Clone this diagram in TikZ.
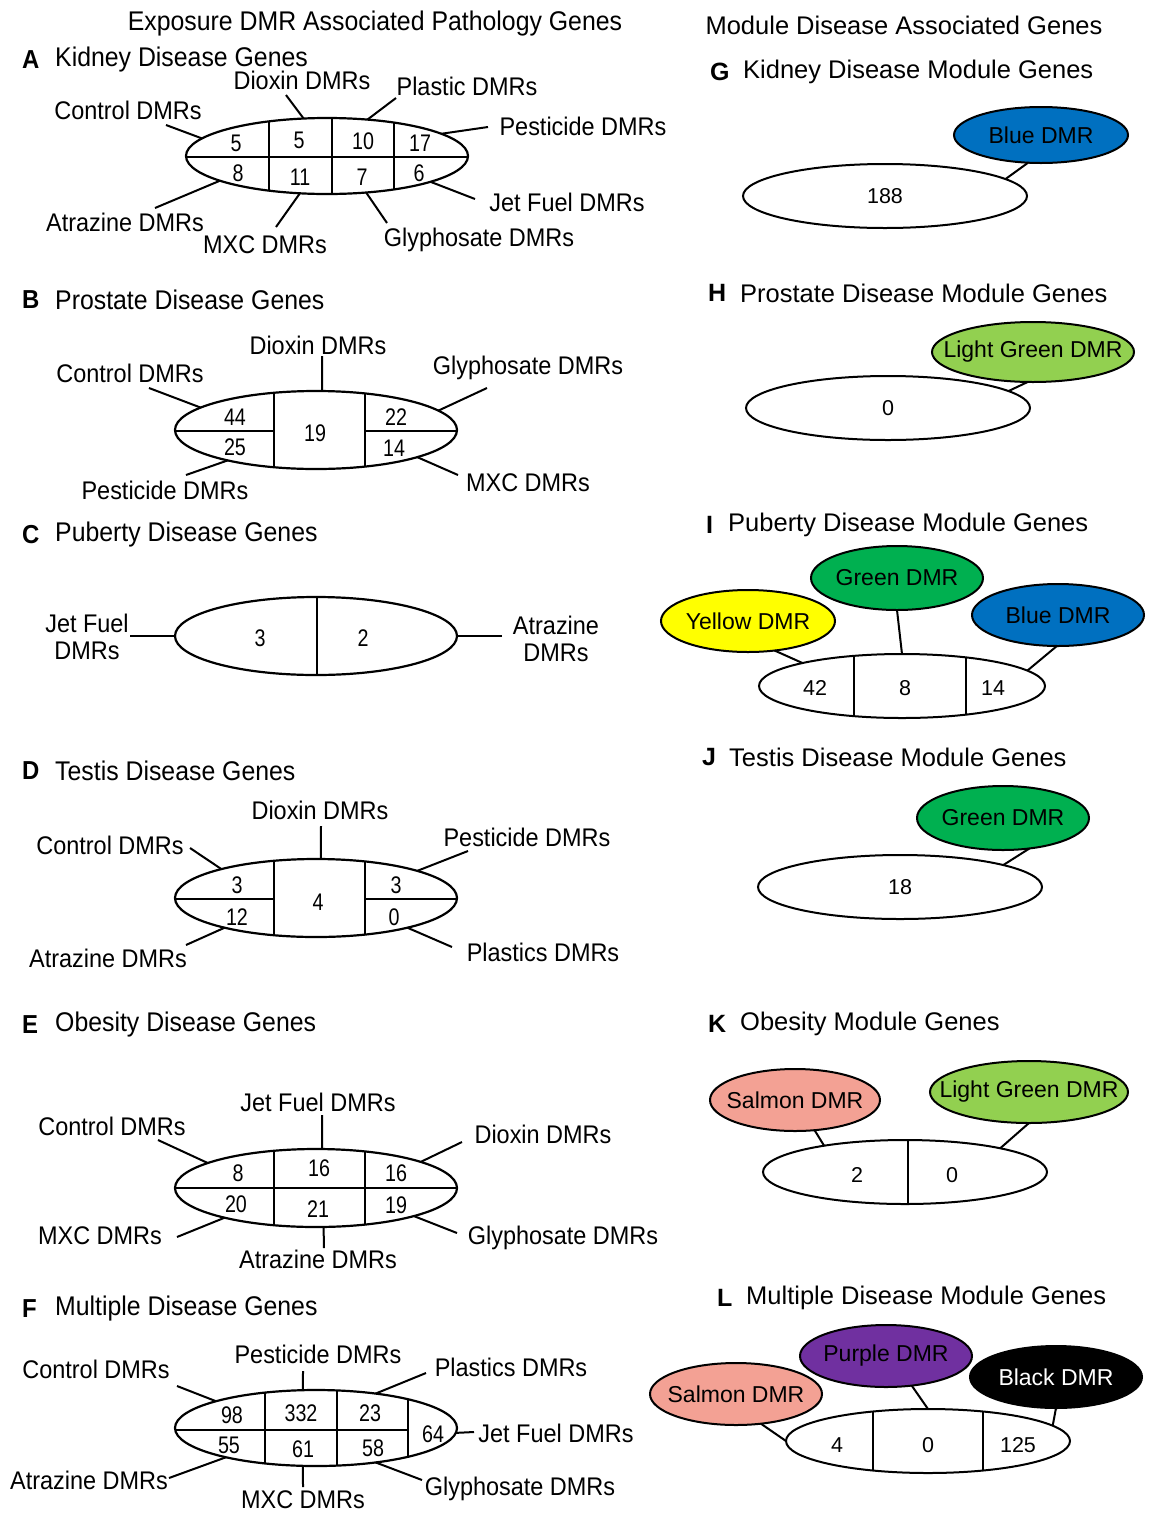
\documentclass[tikz,border=0pt]{standalone}
\usepackage{fontspec}
\setmainfont{Liberation Sans}
\newfontfamily\leftfont[FakeStretch=0.92]{Liberation Sans}
\newfontfamily\numfont[FakeStretch=0.82]{Liberation Sans}
\usepackage{tikz}
\usetikzlibrary{shapes.geometric}
\definecolor{dmrblue}{RGB}{0,112,192}
\definecolor{dmrlgreen}{RGB}{146,208,80}
\definecolor{dmrgreen}{RGB}{0,176,80}
\definecolor{dmryellow}{RGB}{255,255,0}
\definecolor{dmrsalmon}{RGB}{243,161,148}
\definecolor{dmrpurple}{RGB}{112,48,160}
\newcommand{\tight}[1]{\makebox[0pt]{#1}}
\tikzstyle{venn} = [draw, ellipse, line width=2.2pt, fill=white, inner sep=0pt,
outer sep=0pt]
\tikzstyle{mod} = [draw, ellipse, line width=2pt, fill=white, inner sep=0pt,
outer sep=0pt, font=\fontsize{21.5}{24}\selectfont]
\tikzstyle{dmr} = [draw, ellipse, line width=2pt, inner sep=0pt, outer sep=0pt,
font=\fontsize{23}{25}\selectfont]
\tikzstyle{lbl} = [inner sep=0pt, align=center, font=\leftfont\fontsize{25.5}{27}\selectfont]
\tikzstyle{num} = [inner sep=0pt, font=\numfont\fontsize{24}{26}\selectfont]
\tikzstyle{rnum} = [inner sep=0pt, font=\fontsize{21.5}{24}\selectfont]
\tikzstyle{head} = [anchor=west, inner sep=0pt, font=\leftfont\fontsize{27}{30}\selectfont]
\tikzstyle{rhead} = [anchor=west, inner sep=0pt, font=\fontsize{25.5}{30}\selectfont]
\tikzstyle{tag} = [anchor=west, inner sep=0pt, font=\leftfont\bfseries\fontsize{26}{30}\selectfont]
\tikzstyle{rtag} = [anchor=west, inner sep=0pt, font=\bfseries\fontsize{25}{30}\selectfont]
\tikzstyle{ldr} = [line width=2pt]
\tikzstyle{cut} = [line width=2.2pt]

\begin{document}
\begin{tikzpicture}[x=1pt, y=-1pt]
\useasboundingbox (0,0) rectangle (1153,1513);

% column titles
\node[head, anchor=center] (ttlL) at (375,24) {Exposure DMR Associated Pathology Genes};
\node[rhead, anchor=center] (ttlR) at (904,25) {Module Disease Associated Genes};

% A kidney
\node[tag] (tagA) at (22,60) {A};
\node[head] (hA) at (55,60) {Kidney Disease Genes};
\node[venn, minimum width=282, minimum height=76] (eA) at (327,156) {};
\begin{scope}
  \clip (327,156) ellipse [x radius=141, y radius=38];
  \draw[cut] (180,157) -- (480,157) (269,110) -- (269,200)
    (332,110) -- (332,200) (394,110) -- (394,200);
\end{scope}
\node[num] (nA1) at (236,143) {5};
\node[num] (nA2) at (299,140) {5};
\node[num] (nA3) at (363,141) {10};
\node[num] (nA4) at (420,143) {17};
\node[num] (nA5) at (238,173) {8};
\node[num] (nA6) at (300,177) {11};
\node[num] (nA7) at (362,177) {7};
\node[num] (nA8) at (419,173) {6};
\node[lbl] (ctlA) at (128,110) {Control DMRs};
\node[lbl] (dioA) at (302,80) {Dioxin DMRs};
\node[lbl] (plaA) at (467,86) {Plastic DMRs};
\node[lbl] (pesA) at (583,126) {Pesticide DMRs};
\node[lbl] (jetA) at (567,202) {Jet Fuel DMRs};
\node[lbl] (glyA) at (479,240) {Glyphosate DMRs};
\node[lbl] (mxcA) at (265,245) {MXC DMRs};
\node[lbl] (atrA) at (125,222) {Atrazine DMRs};
\coordinate (tA1) at (166,125); \coordinate (tA2) at (286,95);
\coordinate (tA3) at (396,98); \coordinate (tA4) at (488,127);
\coordinate (tA5) at (475,199); \coordinate (tA6) at (387,223);
\coordinate (tA7) at (276,227); \coordinate (tA8) at (155,208);
\draw[ldr] (tA1) -- (eA.172);
\draw[ldr] (tA2) -- (eA.122);
\draw[ldr] (tA3) -- (eA.42);
\draw[ldr] (tA4) -- (eA.11);
\draw[ldr] (tA5) -- (eA.-14);
\draw[ldr] (tA6) -- (eA.-43);
\draw[ldr] (tA7) -- (eA.234);
\draw[ldr] (tA8) -- (eA.193);

% B prostate
\node[tag] (tagB) at (22,300) {B};
\node[head] (hB) at (55,300) {Prostate Disease Genes};
\node[venn, minimum width=282, minimum height=78] (eB) at (316,430) {};
\begin{scope}
  \clip (316,430) ellipse [x radius=141, y radius=39];
  \draw[cut] (170,431) -- (274,431) (365,431) -- (470,431)
    (274,380) -- (274,480) (365,380) -- (365,480);
\end{scope}
\node[num] (nB1) at (235,417) {44};
\node[num] (nB2) at (235,447) {25};
\node[num] (nB3) at (315,433) {19};
\node[num] (nB4) at (396,417) {22};
\node[num] (nB5) at (394,448) {14};
\node[lbl] (dioB) at (318,345) {Dioxin DMRs};
\node[lbl] (ctlB) at (130,373) {Control DMRs};
\node[lbl] (glyB) at (528,368) {Glyphosate DMRs};
\node[lbl] (pesB) at (165,490) {Pesticide DMRs};
\node[lbl] (mxcB) at (528,483) {MXC DMRs};
\coordinate (tB1) at (322,356); \coordinate (tB2) at (149,388);
\coordinate (tB3) at (487,388); \coordinate (tB4) at (186,475);
\coordinate (tB5) at (458,475);
\draw[ldr] (tB1) -- (eB.81);
\draw[ldr] (tB2) -- (eB.169);
\draw[ldr] (tB3) -- (eB.9);
\draw[ldr] (tB4) -- (eB.199);
\draw[ldr] (tB5) -- (eB.-15);

% C puberty
\node[tag] (tagC) at (22,535) {C};
\node[head] (hC) at (55,535) {Puberty Disease Genes};
\node[venn, minimum width=282, minimum height=78] (eC) at (316,636) {};
\begin{scope}
  \clip (316,636) ellipse [x radius=141, y radius=39];
  \draw[cut] (317,590) -- (317,690);
\end{scope}
\node[num] (nC1) at (260,638) {3};
\node[num] (nC2) at (363,638) {2};
\node[lbl] (jetC) at (87,637) {Jet Fuel\\DMRs};
\node[lbl] (atrC) at (556,639) {Atrazine\\DMRs};
\coordinate (tC1) at (130,636); \coordinate (tC2) at (502,636);
\draw[ldr] (tC1) -- (eC.180);
\draw[ldr] (tC2) -- (eC.0);

% D testis
\node[tag] (tagD) at (22,771) {D};
\node[head] (hD) at (55,771) {Testis Disease Genes};
\node[venn, minimum width=282, minimum height=78] (eD) at (316,898) {};
\begin{scope}
  \clip (316,898) ellipse [x radius=141, y radius=39];
  \draw[cut] (170,899) -- (274,899) (365,899) -- (470,899)
    (274,850) -- (274,950) (365,850) -- (365,950);
\end{scope}
\node[num] (nD1) at (237,885) {3};
\node[num] (nD2) at (237,917) {12};
\node[num] (nD3) at (318,902) {4};
\node[num] (nD4) at (396,885) {3};
\node[num] (nD5) at (394,917) {0};
\node[lbl] (dioD) at (320,810) {Dioxin DMRs};
\node[lbl] (ctlD) at (110,845) {Control DMRs};
\node[lbl] (pesD) at (527,837) {Pesticide DMRs};
\node[lbl] (atrD) at (108,958) {Atrazine DMRs};
\node[lbl] (plaD) at (543,952) {Plastics DMRs};
\coordinate (tD1) at (321,826); \coordinate (tD2) at (190,848);
\coordinate (tD3) at (468,851); \coordinate (tD4) at (186,945);
\coordinate (tD5) at (452,947);
\draw[ldr] (tD1) -- (eD.83);
\draw[ldr] (tD2) -- (eD.163);
\draw[ldr] (tD3) -- (eD.15);
\draw[ldr] (tD4) -- (eD.198);
\draw[ldr] (tD5) -- (eD.-18);

% E obesity
\node[tag] (tagE) at (22,1025) {E};
\node[head] (hE) at (55,1025) {Obesity Disease Genes};
\node[venn, minimum width=282, minimum height=78] (eE) at (316,1188) {};
\begin{scope}
  \clip (316,1188) ellipse [x radius=141, y radius=39];
  \draw[cut] (170,1188) -- (470,1188)
    (274,1140) -- (274,1240) (365,1140) -- (365,1240);
\end{scope}
\node[num] (nE1) at (238,1173) {8};
\node[num] (nE2) at (319,1168) {16};
\node[num] (nE3) at (396,1173) {16};
\node[num] (nE4) at (236,1204) {20};
\node[num] (nE5) at (318,1209) {21};
\node[num] (nE6) at (396,1205) {19};
\node[lbl] (jetE) at (318,1102) {Jet Fuel DMRs};
\node[lbl] (ctlE) at (112,1126) {Control DMRs};
\node[lbl] (dioE) at (543,1134) {Dioxin DMRs};
\node[lbl] (mxcE) at (100,1236) {MXC DMRs};
\node[lbl] (atrE) at (318,1259) {Atrazine DMRs};
\node[lbl] (glyE) at (563,1238) {Glyphosate DMRs};
\coordinate (tE1) at (322,1115); \coordinate (tE2) at (158,1140);
\coordinate (tE3) at (462,1142); \coordinate (tE4) at (177,1237);
\coordinate (tE5) at (324,1248); \coordinate (tE6) at (457,1233);
\draw[ldr] (tE1) -- (eE.81);
\draw[ldr] (tE2) -- (eE.167);
\draw[ldr] (tE3) -- (eE.14);
\draw[ldr] (tE4) -- (eE.198);
\draw[ldr] (tE5) -- (eE.-79);
\draw[ldr] (tE6) -- (eE.-16);

% F multiple
\node[tag] (tagF) at (22,1309) {F};
\node[head] (hF) at (55,1309) {Multiple Disease Genes};
\node[venn, minimum width=282, minimum height=76] (eF) at (316,1428) {};
\begin{scope}
  \clip (316,1428) ellipse [x radius=141, y radius=38];
  \draw[cut] (170,1430) -- (408,1430)
    (265,1380) -- (265,1480) (337,1380) -- (337,1480) (408,1380) -- (408,1480);
\end{scope}
\node[num] (nF1) at (232,1415) {98};
\node[num] (nF2) at (301,1413) {332};
\node[num] (nF3) at (370,1413) {23};
\node[num] (nF4) at (433,1434) {64};
\node[num] (nF5) at (229,1445) {55};
\node[num] (nF6) at (303,1449) {61};
\node[num] (nF7) at (373,1448) {58};
\node[lbl] (pesF) at (318,1354) {Pesticide DMRs};
\node[lbl] (ctlF) at (96,1369) {Control DMRs};
\node[lbl] (plaF) at (511,1367) {Plastics DMRs};
\node[lbl] (jetF) at (556,1433) {Jet Fuel DMRs};
\node[lbl] (atrF) at (89,1480) {Atrazine DMRs};
\node[lbl] (glyF) at (520,1489) {Glyphosate DMRs};
\node[lbl] (mxcF) at (303,1500) {MXC DMRs};
\coordinate (tF1) at (303,1371); \coordinate (tF2) at (177,1386);
\coordinate (tF3) at (426,1373); \coordinate (tF4) at (474,1432);
\coordinate (tF5) at (169,1478); \coordinate (tF6) at (422,1480);
\coordinate (tF7) at (303,1487);
\draw[ldr] (tF1) -- (eF.109);
\draw[ldr] (tF2) -- (eF.165);
\draw[ldr] (tF3) -- (eF.30);
\draw[ldr] (tF4) -- (eF.-2);
\draw[ldr] (tF5) -- (eF.198);
\draw[ldr] (tF6) -- (eF.-30);
\draw[ldr] (tF7) -- (eF.251);

% G kidney module
\node[rtag] (tagG) at (710,72) {G};
\node[rhead] (hG) at (743,72) {Kidney Disease Module Genes};
\node[mod, minimum width=284, minimum height=64] (eG) at (885,196) {188};
\node[dmr, fill=dmrblue, minimum width=174, minimum height=56] (bG) at (1041,135) {\tight{Blue DMR}};
\draw[ldr] (bG.245) -- (eG.8);

% H prostate module
\node[rtag] (tagH) at (708,293) {H};
\node[rhead] (hH) at (740,293) {Prostate Disease Module Genes};
\node[mod, minimum width=284, minimum height=64] (eH) at (888,408) {0};
\node[dmr, fill=dmrlgreen, minimum width=202, minimum height=60] (lgH) at (1033,352) {\tight{Light Green DMR}};
\draw[ldr] (lgH.260) -- (eH.8);

% I puberty module
\node[rtag] (tagI) at (706,525) {I};
\node[rhead] (hI) at (728,525) {Puberty Disease Module Genes};
\node[mod, minimum width=286, minimum height=64] (eI) at (902,686) {};
\begin{scope}
  \clip (902,686) ellipse [x radius=143, y radius=32];
  \draw[line width=2pt] (854,640) -- (854,730) (966,640) -- (966,730);
\end{scope}
\node[rnum] (nI1) at (815,688) {42};
\node[rnum] (nI2) at (905,688) {8};
\node[rnum] (nI3) at (993,688) {14};
\node[dmr, fill=dmryellow, minimum width=174, minimum height=62] (yI) at (748,621) {\tight{Yellow DMR}};
\node[dmr, fill=dmrgreen, minimum width=172, minimum height=64] (gI) at (897,578) {\tight{Green DMR}};
\node[dmr, fill=dmrblue, minimum width=172, minimum height=62] (bI) at (1058,615) {\tight{Blue DMR}};
\draw[ldr] (yI.312) -- (eI.167);
\draw[ldr] (gI.270) -- (eI.90);
\draw[ldr] (bI.268) -- (eI.7);

% J testis module
\node[rtag] (tagJ) at (702,757) {J};
\node[rhead] (hJ) at (729,757) {Testis Disease Module Genes};
\node[mod, minimum width=284, minimum height=64] (eJ) at (900,887) {18};
\node[dmr, fill=dmrgreen, minimum width=172, minimum height=64] (gJ) at (1003,818) {\tight{Green DMR}};
\draw[ldr] (gJ.311) -- (eJ.12);

% K obesity module
\node[rtag] (tagK) at (708,1024) {K};
\node[rhead] (hK) at (740,1024) {Obesity Module Genes};
\node[mod, minimum width=284, minimum height=64] (eK) at (905,1172) {};
\begin{scope}
  \clip (905,1172) ellipse [x radius=142, y radius=32];
  \draw[line width=2pt] (908,1130) -- (908,1215);
\end{scope}
\node[rnum] (nK1) at (857,1175) {2};
\node[rnum] (nK2) at (952,1175) {0};
\node[dmr, fill=dmrsalmon, minimum width=170, minimum height=62] (sK) at (795,1100) {\tight{Salmon DMR}};
\node[dmr, fill=dmrlgreen, minimum width=198, minimum height=62] (lgK) at (1029,1092) {\tight{Light Green DMR}};
\draw[ldr] (sK.303) -- (eK.162);
\draw[ldr] (lgK.270) -- (eK.14);

% L multiple module
\node[rtag] (tagL) at (717,1298) {L};
\node[rhead] (hL) at (746,1298) {Multiple Disease Module Genes};
\node[mod, minimum width=284, minimum height=64] (eL) at (928,1441) {};
\begin{scope}
  \clip (928,1441) ellipse [x radius=142, y radius=32];
  \draw[line width=2pt] (873,1400) -- (873,1485) (983,1400) -- (983,1485);
\end{scope}
\node[rnum] (nL1) at (837,1445) {4};
\node[rnum] (nL2) at (928,1445) {0};
\node[rnum] (nL3) at (1018,1445) {125};
\node[dmr, fill=dmrsalmon, minimum width=172, minimum height=62] (sL) at (736,1394) {\tight{Salmon DMR}};
\node[dmr, fill=dmrpurple, minimum width=172, minimum height=62] (pL) at (886,1356) {\tight{Purple DMR}};
\node[dmr, fill=black, text=white, minimum width=172, minimum height=62] (kL) at (1056,1377) {\tight{Black DMR}};
\draw[ldr] (sL.310) -- (eL.180);
\draw[ldr] (pL.311) -- (eL.90);
\draw[ldr] (kL.270) -- (eL.7);
\end{tikzpicture}
\end{document}
